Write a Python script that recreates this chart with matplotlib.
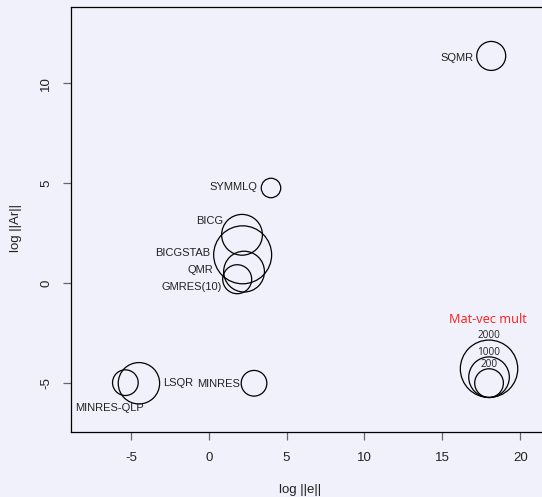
import numpy as np
import matplotlib.pyplot as plt

plt.rcParams['font.family'] = ['Liberation Sans', 'DejaVu Sans']
plt.rcParams['axes.unicode_minus'] = False

# data
methods = ['SQMR', 'SYMMLQ', 'BICG', 'BICGSTAB', 'QMR', 'GMRES(10)',
           'LSQR', 'MINRES-QLP', 'MINRES']
log_e = [18.14, 4.00, 2.14, 2.18, 2.27, 1.83, -4.48, -5.35, 2.91]
log_ar = [11.37, 4.77, 2.43, 1.43, 0.59, 0.21, -4.99, -4.96, -4.99]
matvec = [510, 230, 1010, 2040, 1010, 510, 1040, 400, 400]

legend_labels = ['2000', '1000', '200']
legend_matvec = [2000, 1000, 500]  # circle sizes as drawn in the original key

# label placement: offset in points from circle centre, alignment
label_pos = {
    'SQMR': (-12.7, -1.7, 'right'),
    'SYMMLQ': (-9.7, 0.7, 'right'),
    'BICG': (-13.7, 10.1, 'right'),
    'BICGSTAB': (-23.4, 1.2, 'right'),
    'QMR': (-21.9, 1.2, 'right'),
    'GMRES(10)': (-10.7, -5.5, 'right'),
    'LSQR': (17.1, 0.0, 'left'),
    'MINRES-QLP': (-11.6, -18.2, 'center'),
    'MINRES': (-10.4, -0.5, 'right'),
}

SIZE_SCALE = 0.854  # scatter area (pt^2) per mat-vec mult
bg = '#f1f1fb'

fig = plt.figure(figsize=(5.42, 4.97), dpi=100, facecolor=bg)
ax = fig.add_axes([0.1316, 0.1302, 0.900, 0.8551], facecolor=bg)
ax.set_xlim(-8.82, 22.5)
ax.set_ylim(-7.44, 13.8)

ax.scatter(log_e, log_ar, s=np.array(matvec) * SIZE_SCALE, facecolors='none',
           edgecolors='black', linewidths=0.9, zorder=3)

for name, x, y in zip(methods, log_e, log_ar):
    dx, dy, ha = label_pos[name]
    ax.annotate(name, (x, y), xytext=(dx, dy), textcoords='offset points',
                ha=ha, va='center', fontsize=8, color='#222222')

# size key, circles sitting on a common baseline
key_x, key_base = 18.0, -5.7
pos = ax.get_position()
px_per_y = fig.dpi * fig.get_figheight() * pos.height / (13.8 - (-7.44))
for lab, n in zip(legend_labels, legend_matvec):
    s = n * SIZE_SCALE
    r_px = np.sqrt(s) / 2 * fig.dpi / 72
    cy = key_base + r_px / px_per_y
    ax.scatter([key_x], [cy], s=s, facecolors='none', edgecolors='black',
               linewidths=0.9, zorder=3)
    top = key_base + 2 * r_px / px_per_y
    ax.annotate(lab, (key_x, top), xytext=(0, 3.3), textcoords='offset points',
                ha='center', va='center', fontsize=7.2, color='#222222',
                family=['Open Sans', 'DejaVu Sans'])
ax.text(17.9, -1.78, 'Mat-vec mult', color='#ff1a1a', fontsize=9.2,
        ha='center', va='center', family=['Open Sans', 'DejaVu Sans'])

ax.set_xticks([-5, 0, 5, 10, 15, 20])
ax.set_yticks([-5, 0, 5, 10])
ax.tick_params(direction='out', length=5.5, width=0.9, color='#666666',
               pad=8.4, labelsize=9.5, labelcolor='#222222')
plt.setp(ax.get_yticklabels(), rotation=90, va='center')
for sp in ax.spines.values():
    sp.set_linewidth(0.9)

ax.set_xlabel('log ||e||', fontsize=9.5, color='#222222')
ax.set_ylabel('log ||Ar||', fontsize=9.5, color='#222222')
ax.xaxis.set_label_coords(0.4698, -0.1205)
ax.yaxis.set_label_coords(-0.101, 0.48)

fig.savefig('out.png', dpi=100, facecolor=bg)
